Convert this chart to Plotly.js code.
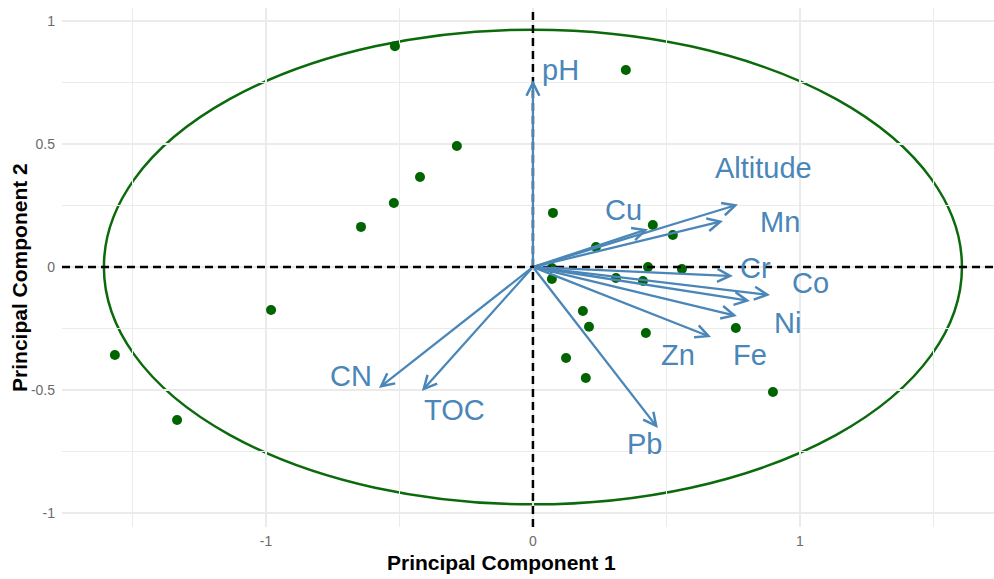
<!DOCTYPE html>
<html>
<head>
<meta charset="utf-8">
<script src="https://cdn.plot.ly/plotly-3.0.1.min.js"></script>
<style>html,body{margin:0;padding:0;background:#fff;}#chart{width:994px;height:579px;}</style>
</head>
<body>
<div id="chart"></div>
<script>
// Sample scores (PC1, PC2)
const scoreX = [-0.517, 0.348, -0.285, -0.423, -0.521, -0.644, 0.075, 0.449, 0.524, 0.236,
                0.431, 0.558, 0.311, 0.412, 0.071, 0.071, 0.423, 0.760, 0.899, 0.187,
                0.210, 0.124, 0.198, -0.981, -1.566, -1.333];
const scoreY = [0.898, 0.801, 0.492, 0.366, 0.260, 0.163, 0.220, 0.171, 0.130, 0.081,
                0.000, -0.008, -0.045, -0.057, -0.004, -0.049, -0.268, -0.248, -0.508, -0.179,
                -0.243, -0.370, -0.451, -0.175, -0.358, -0.622];

// Variable loadings (arrow tips) and label positions
const varNames = ["pH", "Altitude", "Mn", "Cu", "Cr", "Co", "Ni", "Fe", "Zn", "Pb", "CN", "TOC"];
const loadX = [0.000, 0.768, 0.712, 0.431, 0.749, 0.888, 0.813, 0.764, 0.667, 0.468, -0.577, -0.416];
const loadY = [0.760, 0.254, 0.187, 0.154, -0.037, -0.114, -0.138, -0.199, -0.285, -0.655, -0.492, -0.504];
const labelX = [0.105, 0.865, 0.925, 0.341, 0.835, 1.041, 0.955, 0.813, 0.543, 0.419, -0.682, -0.292];
const labelY = [0.800, 0.402, 0.183, 0.232, -0.004, -0.065, -0.228, -0.358, -0.358, -0.720, -0.443, -0.581];

// Tick labels
const xTickVals = [-1, 0, 1];
const xTickText = ["-1", "0", "1"];
const yTickVals = [-1, -0.5, 0, 0.5, 1];
const yTickText = ["-1", "-0.5", "0", "0.5", "1"];

// Ellipse radii
const ellipseRx = 1.607;
const ellipseRy = 0.965;

const green = "#0b6a0b";
const blue = "#4a86b8";
const font = "Liberation Sans, Arial, sans-serif";

const traces = [
  {
    type: "scatter", mode: "markers",
    x: scoreX, y: scoreY,
    marker: {color: "#006400", size: 10},
    hoverinfo: "skip", showlegend: false
  }
];

const annotations = [];
for (let i = 0; i < varNames.length; i++) {
  annotations.push({
    x: loadX[i], y: loadY[i], xref: "x", yref: "y",
    ax: 0, ay: 0, axref: "x", ayref: "y",
    text: "", showarrow: true,
    arrowhead: 5, arrowsize: 1.1, arrowwidth: 2.3, arrowcolor: blue,
    standoff: 0, startstandoff: 0
  });
}
for (let i = 0; i < varNames.length; i++) {
  annotations.push({
    x: labelX[i], y: labelY[i], xref: "x", yref: "y",
    text: varNames[i], showarrow: false,
    xanchor: "center", yanchor: "middle",
    font: {family: font, size: 29, color: blue}
  });
}
annotations.push({
  text: "Principal Component 1", xref: "paper", yref: "paper",
  x: 0.472, y: -0.069, xanchor: "center", yanchor: "middle", showarrow: false,
  font: {family: font, size: 21, color: "#000", weight: "bold"}
});
annotations.push({
  text: "Principal Component 2", xref: "paper", yref: "paper",
  x: -0.045, y: 0.48, xanchor: "center", yanchor: "middle", showarrow: false, textangle: -90,
  font: {family: font, size: 21, color: "#000", weight: "bold"}
});

const layout = {
  width: 994, height: 579,
  margin: {l: 62, r: 0, t: 8, b: 52},
  paper_bgcolor: "#fff", plot_bgcolor: "#fff",
  xaxis: {
    range: [-1.764, 1.727], tickmode: "array", tickvals: xTickVals, ticktext: xTickText,
    showgrid: true, gridcolor: "#ebebeb", gridwidth: 1.2,
    minor: {dtick: 0.5, tick0: 0, showgrid: true, gridcolor: "#ebebeb", gridwidth: 1.2},
    zeroline: false, showline: false, ticks: "", ticklabelstandoff: 4,
    tickfont: {family: font, size: 14, color: "#6b6b6b"}
  },
  yaxis: {
    range: [-1.057, 1.053], tickmode: "array", tickvals: yTickVals, ticktext: yTickText,
    showgrid: true, gridcolor: "#ebebeb", gridwidth: 1.2,
    minor: {dtick: 0.25, tick0: 0, showgrid: true, gridcolor: "#ebebeb", gridwidth: 1.2},
    zeroline: false, showline: false, ticks: "", ticklabelstandoff: 6,
    tickfont: {family: font, size: 14, color: "#6b6b6b"}
  },
  shapes: [
    {type: "circle", xref: "x", yref: "y", x0: -ellipseRx, x1: ellipseRx, y0: -ellipseRy, y1: ellipseRy,
     line: {color: green, width: 2.5}, layer: "below"},
    {type: "line", xref: "paper", yref: "y", x0: 0, x1: 1, y0: 0, y1: 0,
     line: {color: "#000", width: 2.5, dash: "8px,5px"}, layer: "above"},
    {type: "line", xref: "x", yref: "paper", x0: 0, x1: 0, y0: 0, y1: 1,
     line: {color: "#000", width: 2.5, dash: "8px,5px"}, layer: "above"}
  ],
  annotations: annotations,
  showlegend: false
};

Plotly.newPlot("chart", traces, layout, {displayModeBar: false, staticPlot: true});
</script>
</body>
</html>
